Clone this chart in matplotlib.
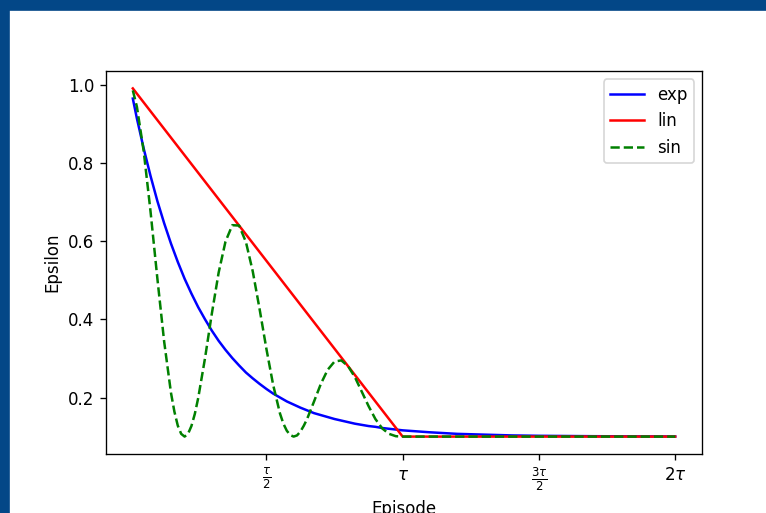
import matplotlib.pyplot as plt
from matplotlib.patches import Rectangle

# Schedule length (episodes); the x axis is labelled in units of tau
TAU = 100

# Values (episode, epsilon)
ep_main = [1, 2.5, 5, 7.5, 10, 12.5, 15, 17.5, 20, 22.5, 25, 27.5, 30, 32.5, 35, 37.5,
           40, 42.5, 45, 47.5, 50, 52.5, 55, 57.5, 60, 62.5, 65, 67.5, 70, 72.5, 75,
           77.5, 80, 82.5, 85, 87.5, 90, 92.5, 95, 97.5, 100,
           110, 120, 130, 140, 150, 160, 170, 180, 190, 200]
eps_exp = [0.965, 0.914, 0.837, 0.767, 0.703, 0.646, 0.594, 0.547, 0.504, 0.466, 0.431,
           0.400, 0.371, 0.345, 0.322, 0.301, 0.282, 0.264, 0.249, 0.235, 0.222, 0.210,
           0.200, 0.190, 0.182, 0.174, 0.167, 0.160, 0.155, 0.150, 0.145, 0.141, 0.137,
           0.133, 0.130, 0.127, 0.125, 0.122, 0.120, 0.118, 0.116,
           0.111, 0.107, 0.105, 0.103, 0.102, 0.1015, 0.101, 0.1007, 0.1005, 0.1003]

ep_lin = [1, 100, 200]
eps_lin = [0.991, 0.100, 0.100]

ep_sin = [1, 2.5, 5, 7.5, 10, 12.5, 15, 16.25, 17.5, 18.75, 20, 21.25, 22.5, 23.75, 25,
          27.5, 30, 32.5, 35, 37.5, 40, 42.5, 45, 47.5, 50, 52.5, 55, 56.25, 57.5, 58.75,
          60, 61.25, 62.5, 63.75, 65, 67.5, 70, 72.5, 75, 77.5, 80, 82.5, 85, 87.5, 90,
          92.5, 95, 97.5, 100, 150, 200]
eps_sin = [0.986, 0.944, 0.830, 0.676, 0.505, 0.343, 0.212, 0.164, 0.128, 0.107, 0.100,
           0.107, 0.127, 0.158, 0.199, 0.301, 0.415, 0.520, 0.599, 0.641, 0.640, 0.598,
           0.523, 0.427, 0.325, 0.232, 0.159, 0.133, 0.115, 0.104, 0.100, 0.103, 0.113,
           0.128, 0.146, 0.190, 0.235, 0.271, 0.292, 0.295, 0.280, 0.252, 0.215, 0.178,
           0.145, 0.121, 0.107, 0.101, 0.100, 0.100, 0.100]

tick_pos = [TAU / 2, TAU, 3 * TAU / 2, 2 * TAU]
tick_labels = [r'$\frac{\tau}{2}$', r'$\tau$', r'$\frac{3\tau}{2}$', r'$2\tau$']

fig = plt.figure(figsize=(766 / 120, 513 / 120), dpi=120)

# blue frame strips along top and left edge
fig.patches.append(Rectangle((0, 1 - 10 / 513), 1, 10 / 513, transform=fig.transFigure,
                             color='#034787', zorder=0))
fig.patches.append(Rectangle((0, 0), 9 / 766, 1, transform=fig.transFigure,
                             color='#034787', zorder=0))

ax = fig.add_axes([105.7 / 766, 1 - 454 / 513, (702.3 - 105.7) / 766, (454 - 71) / 513])
ax.plot(ep_main, eps_exp, color='blue', label='exp')
ax.plot(ep_lin, eps_lin, color='red', label='lin')
ax.plot(ep_sin, eps_sin, color='green', linestyle='--', label='sin')

ax.set_xticks(tick_pos)
ax.set_xticklabels(tick_labels)
ax.set_xlabel('Episode')
ax.set_ylabel('Epsilon')
ax.legend(loc='upper right')

fig.savefig('out.png', dpi=120)
